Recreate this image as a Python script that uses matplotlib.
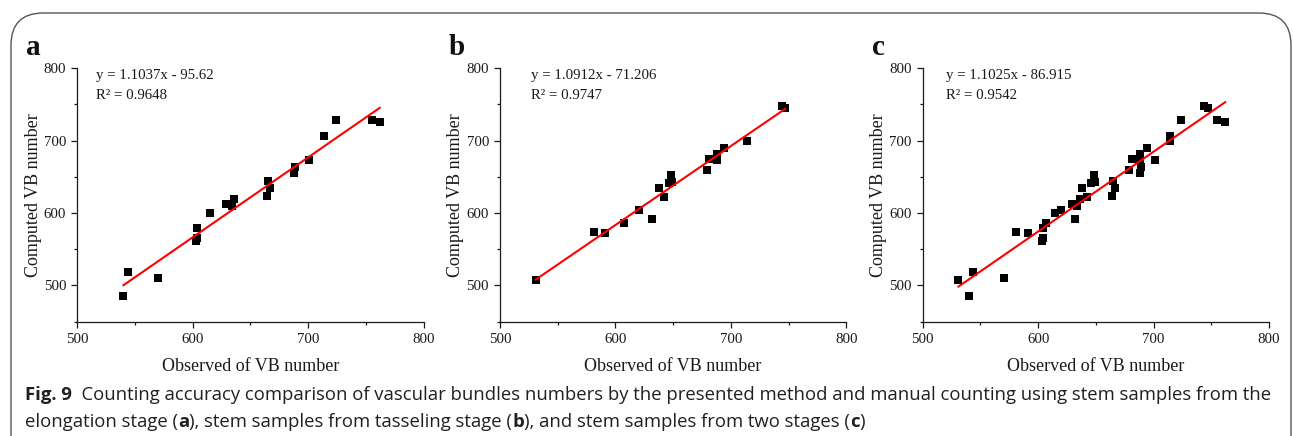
import matplotlib
matplotlib.use("Agg")
import matplotlib.pyplot as plt
from matplotlib.patches import FancyBboxPatch
from matplotlib.ticker import MultipleLocator

# ---- data ----
obs_a = [540, 544, 570, 603, 604, 604, 615, 629, 634, 636, 664, 665, 667, 688, 689, 701, 714, 724, 755, 762]
comp_a = [486, 519, 510, 561, 565, 580, 600, 612, 610, 619, 624, 644, 634, 656, 664, 674, 707, 729, 729, 726]
obs_b = [531, 581, 591, 607, 620, 632, 638, 642, 646, 648, 649, 679, 681, 688, 688, 694, 714, 744, 747]
comp_b = [508, 574, 572, 587, 604, 592, 635, 622, 642, 652, 643, 659, 675, 682, 673, 690, 699, 748, 745]
obs_c = obs_a + obs_b
comp_c = comp_a + comp_b

slopes = [1.1037, 1.0912, 1.1025]
intercepts = [-95.62, -71.206, -86.915]
eq_texts = ["y = 1.1037x - 95.62", "y = 1.0912x - 71.206", "y = 1.1025x - 86.915"]
r2_texts = ["0.9648", "0.9747", "0.9542"]
panel_letters = ["a", "b", "c"]
xlabel = "Observed of VB number"
ylabel = "Computed VB number"
xticks = [500, 600, 700, 800]
yticks = [500, 600, 700, 800]

W, H = 1293, 436
fig = plt.figure(figsize=(W / 100, H / 100), dpi=100)

serif = "Liberation Serif"
ink = "#1a1a1a"
lefts_px = [77.3, 500.0, 922.7]
eq_x_px = [95.5, 531.0, 945.5]
ax_w = 346.3 / W
ax_b = (H - 321.7) / H
ax_h = (321.7 - 68.3) / H

datasets = [(obs_a, comp_a), (obs_b, comp_b), (obs_c, comp_c)]
for i, (xs, ys) in enumerate(datasets):
    ax = fig.add_axes([lefts_px[i] / W, ax_b, ax_w, ax_h])
    ax.scatter(xs, ys, marker="s", s=34, color="black", zorder=3, linewidths=0)
    x0, x1 = min(xs), max(xs)
    ax.plot([x0, x1], [slopes[i] * x0 + intercepts[i], slopes[i] * x1 + intercepts[i]],
            color="#ff0000", lw=1.5, zorder=4)
    ax.set_xlim(500, 800)
    ax.set_ylim(450, 800)
    ax.set_xticks(xticks)
    ax.set_yticks(yticks)
    ax.xaxis.set_minor_locator(MultipleLocator(50))
    ax.yaxis.set_minor_locator(MultipleLocator(50))
    for s in ["top", "right"]:
        ax.spines[s].set_visible(False)
    for s in ["left", "bottom"]:
        ax.spines[s].set_linewidth(0.9)
        ax.spines[s].set_color(ink)
    ax.tick_params(which="major", direction="out", length=4, width=0.9, pad=4,
                   labelsize=10.7, colors=ink)
    ax.tick_params(which="minor", direction="out", length=2.5, width=0.9, colors=ink)
    for lab in ax.get_xticklabels() + ax.get_yticklabels():
        lab.set_fontfamily(serif)
    ax.set_xlabel(xlabel, fontsize=13, fontfamily=serif, labelpad=9, color=ink)
    ax.set_ylabel(ylabel, fontsize=13, fontfamily=serif, labelpad=1.5, color=ink)
    fig.text(eq_x_px[i] / W, (H - 76) / H, eq_texts[i], fontsize=10.7,
             fontfamily=serif, va="center", ha="left", color=ink)
    fig.text(eq_x_px[i] / W, (H - 95.5) / H, "R² = " + r2_texts[i], fontsize=10.7,
             fontfamily=serif, va="center", ha="left", color=ink)
    fig.text((lefts_px[i] - 51) / W, (H - 55) / H, panel_letters[i], fontsize=21,
             fontweight="bold", fontfamily=serif, ha="left", va="baseline", color="#111111")

# border (rounded frame open at bottom)
frame = FancyBboxPatch((11 / W, -0.2), (1291 - 11) / W, (H - 13) / H + 0.2,
                       boxstyle="round,pad=0,rounding_size=0.025",
                       transform=fig.transFigure, fill=False, edgecolor="#555555",
                       lw=1.0, mutation_aspect=W / H)
fig.patches.append(frame)

# caption with mixed bold pieces
cap_family = ["Open Sans", "DejaVu Sans"]
cap_color = "#231f20"
renderer = fig.canvas.get_renderer()

line1 = [("Fig. 9", True),
         ("  Counting accuracy comparison of vascular bundles numbers by the presented method and manual counting using stem samples from the", False)]
line2 = [("elongation stage (", False), ("a", True), ("), stem samples from tasseling stage (", False),
         ("b", True), ("), and stem samples from two stages (", False), ("c", True), (")", False)]

def draw_line(pieces, x_px, y_px, size, draw=True):
    x = x_px
    made = []
    for txt, bold in pieces:
        t = fig.text(x / W, (H - y_px) / H, txt, fontsize=size, family=cap_family,
                     fontweight="bold" if bold else "normal", color=cap_color,
                     ha="left", va="baseline")
        bb = t.get_window_extent(renderer=renderer)
        x += bb.width
        made.append(t)
    if not draw:
        for t in made:
            t.remove()
    return x - x_px

# fit first line width to the reference's line width
target_w = 1265 - 25
trial = 12.0
w = draw_line(line1, 25, 400, trial, draw=False)
cap_size = trial * target_w / w
draw_line(line1, 25, 400, cap_size)
draw_line(line2, 25, 426.5, cap_size)

fig.savefig("out.png", dpi=100)
